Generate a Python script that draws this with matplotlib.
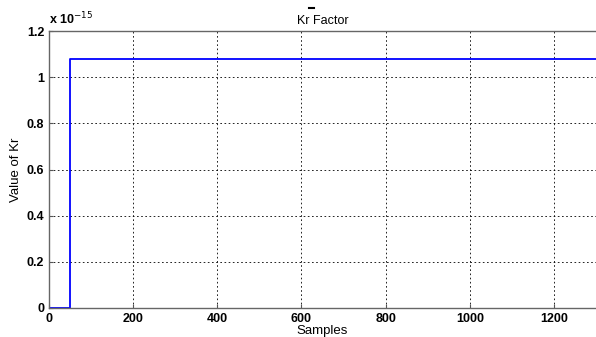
import matplotlib
matplotlib.use("Agg")
import matplotlib.pyplot as plt
from matplotlib.ticker import FuncFormatter
from matplotlib.lines import Line2D

plt.rcParams['font.family'] = ['Liberation Sans', 'DejaVu Sans']

samples = [0, 50, 1300]
kr_values = [0.0, 1.08e-15, 1.08e-15]
xticks = [0, 200, 400, 600, 800, 1000, 1200]
yticks = [0, 0.2e-15, 0.4e-15, 0.6e-15, 0.8e-15, 1.0e-15, 1.2e-15]

fig = plt.figure(figsize=(5.96, 3.37), dpi=100)
ax = fig.add_axes([49/596, 29/337, 547/596, 277/337])

ax.plot(samples, kr_values, color='#0000ff', linewidth=1.3, drawstyle='steps-post')

ax.set_xlim(0, 1300)
ax.set_ylim(0, 1.2e-15)
ax.set_xticks(xticks)
ax.set_yticks(yticks)
ax.yaxis.set_major_formatter(FuncFormatter(lambda v, p: ('%g' % round(v / 1e-15, 2))))
ax.grid(True, color='black', linestyle=(0, (2, 3)), linewidth=0.6)
ax.tick_params(direction='in', length=3, labelsize=9, colors='#555555', labelcolor='black')
for lbl in ax.get_xticklabels() + ax.get_yticklabels():
    lbl.set_fontweight('bold')
for s in ['left', 'bottom', 'top']:
    ax.spines[s].set_color('#666666')
    ax.spines[s].set_linewidth(1.0)
ax.spines['right'].set_visible(False)

ax.set_title('Kr Factor', fontsize=9, pad=5)
ax.set_xlabel('Samples', fontsize=9.5, labelpad=0)
ax.set_ylabel('Value of Kr', fontsize=9.5, labelpad=3)
ax.text(0.0, 1.012, r'x 10$^{-15}$', transform=ax.transAxes, fontsize=9,
        fontweight='bold', ha='left', va='bottom')

fig.add_artist(Line2D([309/596, 314/596], [1 - 8/337, 1 - 8/337], color='black',
                      linewidth=1.5, transform=fig.transFigure))

fig.savefig('out.png', dpi=100)
